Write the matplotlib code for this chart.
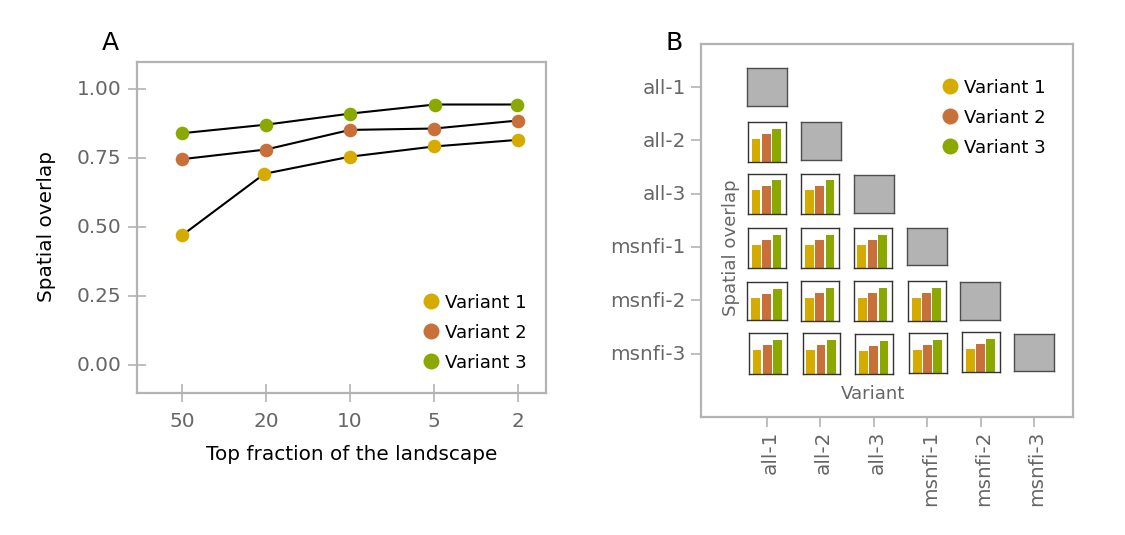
import matplotlib
matplotlib.use("Agg")
import matplotlib.pyplot as plt
from matplotlib.transforms import ScaledTranslation

W, H = 1125, 535
fractions = ["50", "20", "10", "5", "2"]
variants = ["Variant 1", "Variant 2", "Variant 3"]
colors = ["#D6AB00", "#C8703A", "#8BA800"]
overlap_v1 = [0.470, 0.693, 0.755, 0.792, 0.816]
overlap_v2 = [0.746, 0.781, 0.852, 0.857, 0.886]
overlap_v3 = [0.840, 0.871, 0.911, 0.944, 0.944]
jitter_v1 = [0.0, -0.02, 0.0, 0.0, 0.0]
jitter_v2 = [0.0, 0.0, 0.0, 0.0, 0.0]
jitter_v3 = [0.0, 0.0, 0.0, 0.01, -0.01]
yticks_a = [0.00, 0.25, 0.50, 0.75, 1.00]
datasets = ["all-1", "all-2", "all-3", "msnfi-1", "msnfi-2", "msnfi-3"]
# mean overlap for each lower-triangle cell, row by row
cell_rows = [1, 2, 2, 3, 3, 3, 4, 4, 4, 4, 5, 5, 5, 5, 5]
cell_cols = [0, 0, 1, 0, 1, 2, 0, 1, 2, 3, 0, 1, 2, 3, 4]
cell_v1 = [0.58] * 15
cell_v2 = [0.70] * 15
cell_v3 = [0.83] * 15

# layout in pixels of the reference: left, right, top, bottom
cell_boxes = {
    (1, 0): (748, 785.7, 121.7, 162), (2, 0): (748, 785.7, 173.7, 213.7),
    (2, 1): (801.3, 839.3, 173.7, 213.7), (3, 0): (748.3, 786.3, 227.7, 268),
    (3, 1): (801.3, 839.3, 227.7, 268), (3, 2): (853.7, 891.7, 227.7, 268),
    (4, 0): (747, 787.3, 282.3, 320), (4, 1): (801.3, 839.3, 280.7, 321),
    (4, 2): (854.3, 892.3, 281.3, 321.3), (4, 3): (908.3, 945.7, 281.3, 321.3),
    (5, 0): (749, 786.7, 333.3, 373.7), (5, 1): (802.7, 840.3, 333.3, 373.7),
    (5, 2): (855.3, 893.3, 333.7, 374), (5, 3): (909.3, 947, 333.3, 373.3),
    (5, 4): (962.3, 999.7, 332, 372.3),
}
diag_boxes = [
    (746.7, 786.7, 68.3, 106.3), (801, 841, 122.3, 160), (853.7, 894, 175.3, 213.3),
    (907, 947, 228, 265.3), (960, 1000, 282.3, 320.3), (1014, 1054.3, 334, 371.3),
]

plt.rcParams["font.family"] = "DejaVu Sans"
GRID = "#B3B3B3"
TXT = "#666666"
fig = plt.figure(figsize=(W / 100, H / 100), dpi=100)


def px_axes(l, r, t, b, **kw):
    return fig.add_axes([l / W, 1 - b / H, (r - l) / W, (b - t) / H], **kw)


def style(ax, direction, length, xpad, ypad):
    for s in ax.spines.values():
        s.set_color(GRID)
        s.set_linewidth(1.6)
    ax.tick_params(direction=direction, length=length, width=1.2, color=GRID,
                   labelcolor=TXT, labelsize=14.4)
    ax.tick_params(axis="x", pad=xpad)
    ax.tick_params(axis="y", pad=ypad)


def shift_labels(labels, dx, dy):
    offset = ScaledTranslation(dx / 100, dy / 100, fig.dpi_scale_trans)
    for lab in labels:
        lab.set_transform(lab.get_transform() + offset)


def legend(ax_x, y_list):
    for name, c, y in zip(variants, colors, y_list):
        fig.add_artist(plt.Line2D([ax_x / W], [1 - y / H], marker="o", ms=11.5, color=c, mec="none", ls=""))
        fig.text((ax_x + 14) / W, 1 - y / H, name, fontsize=13.1, color="black", va="center_baseline", ha="left")


# Panel A
axa = px_axes(137, 546, 62, 393)
axa.set_xticks(range(5), fractions)
axa.set_yticks(yticks_a, [f"{v:.2f}" for v in yticks_a])
style(axa, "inout", 13, 7, 4.5)
for vals, jit, c in zip([overlap_v1, overlap_v2, overlap_v3], [jitter_v1, jitter_v2, jitter_v3], colors):
    xs = [i + j for i, j in enumerate(jit)]
    axa.plot(xs, vals, color="black", lw=1.5, zorder=2)
    axa.plot(xs, vals, ls="", marker="o", ms=9.8, color=c, mec="none", zorder=3)
axa.set_xlim(-0.536, 4.333)
axa.set_ylim(-0.101, 1.098)
shift_labels(axa.get_yticklabels(), 0, 1.5)
axa.set_xlabel("Top fraction of the landscape", fontsize=14.4, va="center")
axa.set_ylabel("Spatial overlap", fontsize=14.4, va="center")
axa.xaxis.set_label_coords((352 - 137) / 409, (393 - 454) / 331)
axa.yaxis.set_label_coords((47 - 137) / 409, (393 - 227) / 331)
legend(431, [301, 331, 361])
fig.text(102 / W, 1 - 49.5 / H, "A", fontsize=18, color="black")

# Panel B
axb = px_axes(701, 1073, 44, 417)
axb.set_xticks(range(6), datasets, rotation=90)
axb.set_yticks(range(6), datasets)
style(axb, "out", 7, 2.5, 4)
axb.set_xlim(-1.236, 5.73)
axb.set_ylim(5.0 + (417 - 353.5) / 53.3, -(87 - 44) / 53.3)
shift_labels(axb.get_xticklabels(), 3, 0)
shift_labels(axb.get_yticklabels(), 0, 1)
fig.text(873 / W, 1 - 394 / H, "Variant", fontsize=13.1, color=TXT, ha="center", va="center")
fig.text(731 / W, 1 - 248 / H, "Spatial overlap", fontsize=13.1, color=TXT, ha="center", va="center", rotation=90)
legend(950, [86, 116, 146])
fig.text(665 / W, 1 - 49.5 / H, "B", fontsize=18, color="black")

for box in diag_boxes:
    ax = px_axes(*box)
    ax.set_facecolor("#B3B3B3")
    ax.set_xticks([])
    ax.set_yticks([])
    for s in ax.spines.values():
        s.set_color("#4D4D4D")
        s.set_linewidth(1.0)

for r, c, a, b_, d in zip(cell_rows, cell_cols, cell_v1, cell_v2, cell_v3):
    ax = px_axes(*cell_boxes[(r, c)])
    ax.bar(range(3), [a, b_, d], width=0.85, color=colors)
    ax.set_xlim(-0.78, 2.89)
    ax.set_ylim(0, 1)
    ax.set_xticks([])
    ax.set_yticks([])
    for s in ax.spines.values():
        s.set_color("#333333")
        s.set_linewidth(1.0)

fig.savefig("out.png", dpi=100)
